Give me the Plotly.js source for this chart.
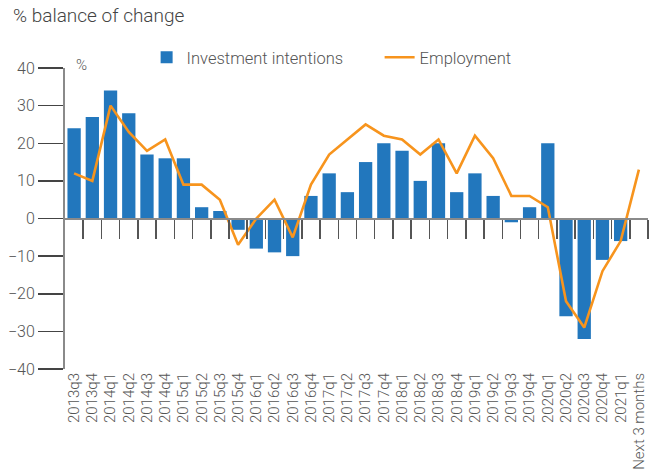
<!DOCTYPE html>
<html><head><meta charset="utf-8">
<script src="https://cdn.plot.ly/plotly-3.0.1.min.js"></script>
<style>html,body{margin:0;padding:0;background:#fff}#chart{width:657px;height:475px}</style>
</head><body><div id="chart"></div>
<script>
const categories = ["2013q3","2013q4","2014q1","2014q2","2014q3","2014q4","2015q1","2015q2","2015q3","2015q4",
"2016q1","2016q2","2016q3","2016q4","2017q1","2017q2","2017q3","2017q4","2018q1","2018q2","2018q3","2018q4",
"2019q1","2019q2","2019q3","2019q4","2020q1","2020q2","2020q3","2020q4","2021q1","Next 3 months"];
const investment = [24,27,34,28,17,16,16,3,2,-3,-8,-9,-10,6,12,7,15,20,18,10,20,7,12,6,-1,3,20,-26,-32,-11,-6,null];
const employment = [12,10,30,23,18,21,9,9,5,-7,0,5,-5,9,17,21,25,22,21,17,21,12,22,16,6,6,3,-22,-29,-14,-6,13];
const yTicks = [-40,-30,-20,-10,0,10,20,30,40];

const n = categories.length;
const boundaries = categories.map((c,i)=>i+0.5);
const font = "Roboto, 'Open Sans', sans-serif";

const data = [
 {type:'bar', x:categories, y:investment, name:'Investment intentions', marker:{color:'#2277bd'}, hoverinfo:'x+y'},
 {type:'scatter', mode:'lines', x:categories, y:employment, name:'Employment', line:{color:'#f7941d', width:2.6}}
];
const layout = {
 width:657, height:475,
 margin:{l:65, r:9, t:68, b:106},
 paper_bgcolor:'#fff', plot_bgcolor:'rgba(0,0,0,0)',
 font:{family:font, color:'#555', size:13, weight:300},
 title:{text:'% balance of change', x:13/657, xref:'container', xanchor:'left', y:1-9/475, yref:'container', yanchor:'top', font:{size:19, color:'#444', family:font, weight:300}},
 bargap:0.27,
 showlegend:true,
 legend:{orientation:'h', x:0.14, xanchor:'left', y:1.035, yanchor:'middle', font:{size:16.5, color:'#555', weight:300}, tracegroupgap:0, entrywidthmode:'pixels', entrywidth:188, bgcolor:'rgba(0,0,0,0)'},
 xaxis:{type:'category', categoryorder:'array', categoryarray:categories, range:[-0.5, n-0.5], showline:false, ticks:'', showgrid:false, zeroline:false, tickangle:-90, tickfont:{size:15, color:'#555', weight:300}, fixedrange:true},
 xaxis2:{type:'linear', overlaying:'x', anchor:'free', position:0.5, side:'bottom', range:[-0.5, n-0.5], tickmode:'array', tickvals:boundaries, ticks:'outside', ticklen:19, tickwidth:1.5, tickcolor:'#555', showticklabels:false, showline:true, linecolor:'#8a8a8a', linewidth:2, showgrid:false, zeroline:false},
 yaxis:{range:[-40,40], tickmode:'array', tickvals:yTicks, ticks:'outside', ticklen:25, tickwidth:1.5, tickcolor:'#444', showline:true, linecolor:'#8a8a8a', linewidth:2, showgrid:false, zeroline:false, tickfont:{size:16, color:'#555', weight:300}, ticklabelstandoff:0},
 annotations:[{text:'%', xref:'paper', yref:'y', x:0.015, y:40, xanchor:'left', yanchor:'bottom', showarrow:false, font:{size:15, color:'#555', weight:300}, yshift:-8}]
};
data.push({type:'scatter', x:[0], y:[null], xaxis:'x2', showlegend:false, hoverinfo:'skip'});
Plotly.newPlot('chart', data, layout, {displayModeBar:false, staticPlot:true});
</script></body></html>
